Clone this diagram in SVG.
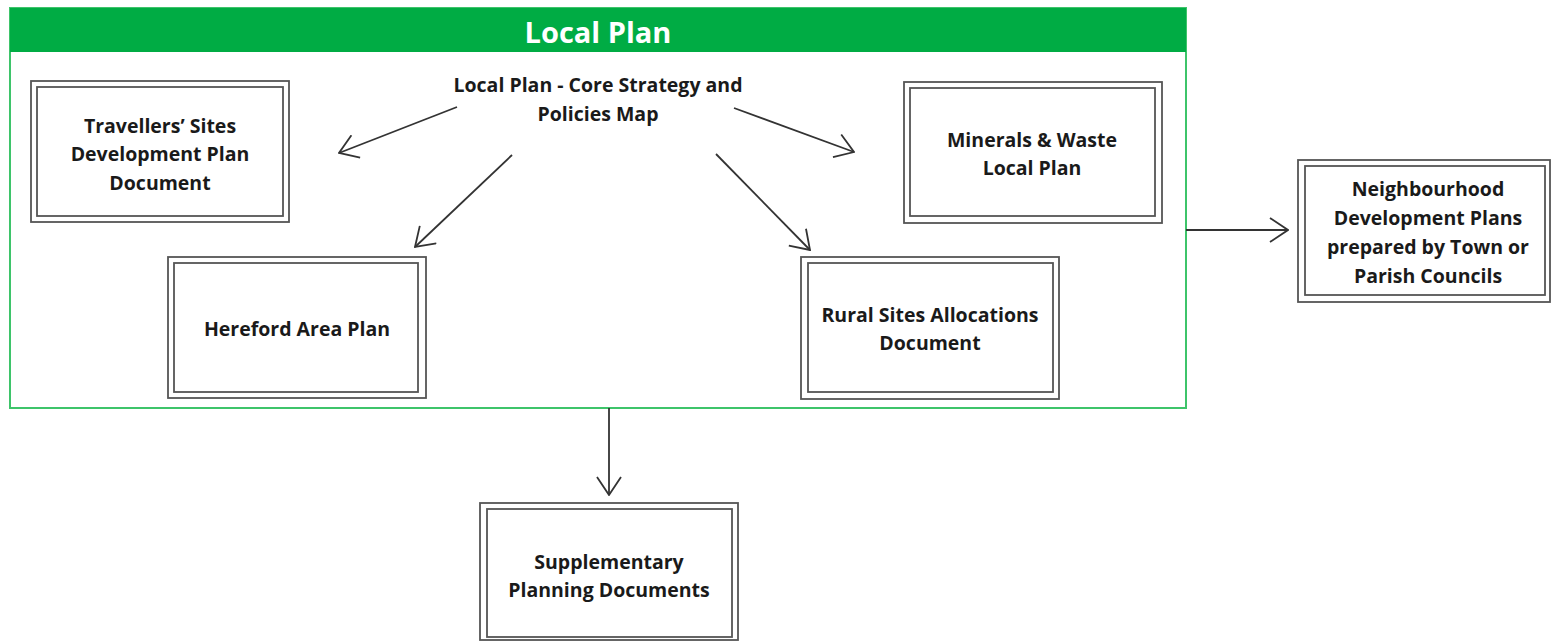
<svg xmlns="http://www.w3.org/2000/svg" width="1551" height="641" viewBox="0 0 1551 641">
<style>
.t{font-family:"Open Sans","Noto Sans","Liberation Sans",sans-serif;font-weight:bold;font-size:19.5px;fill:#1a1a1a;text-anchor:middle}
.title{font-family:"Open Sans","Noto Sans","Liberation Sans",sans-serif;font-weight:bold;font-size:29px;fill:#ffffff;text-anchor:middle}
.bx{fill:#ffffff;stroke:#555555;stroke-width:1.8}
.bi{fill:none;stroke:#555555;stroke-width:1.8}
.c{fill:none;stroke:#333333;stroke-width:1.8}
</style>
<defs>
<marker id="ah" viewBox="0 0 20 26" refX="19" refY="13" markerWidth="20" markerHeight="26" markerUnits="userSpaceOnUse" orient="auto">
<path d="M1,1 L19,13 L1,25" fill="none" stroke="#333333" stroke-width="1.8"/>
</marker>
</defs>
<rect width="1551" height="641" fill="#ffffff"/>
<g id="local-plan">
<rect x="10" y="8" width="1176" height="400" fill="#ffffff" stroke="#3ec46a" stroke-width="2"/>
<rect x="10" y="8" width="1176" height="44" fill="#00ac44"/>
<text class="title" x="598" y="43">Local Plan</text>
</g>
<g id="core-strategy">
<text class="t" x="598" y="92">Local Plan - Core Strategy and</text>
<text class="t" x="598" y="121">Policies Map</text>
</g>
<g id="travellers">
<rect class="bx" x="31" y="81" width="258" height="141"/>
<rect class="bi" x="37" y="87" width="246" height="129"/>
<text class="t" x="160" y="133">Travellers’ Sites</text>
<text class="t" x="160" y="161">Development Plan</text>
<text class="t" x="160" y="190">Document</text>
</g>
<g id="minerals">
<rect class="bx" x="904" y="82" width="258" height="141"/>
<rect class="bi" x="910" y="88" width="245" height="128"/>
<text class="t" x="1032" y="147">Minerals &amp; Waste</text>
<text class="t" x="1032" y="175">Local Plan</text>
</g>
<g id="hereford">
<rect class="bx" x="168" y="257" width="258" height="141"/>
<rect class="bi" x="174" y="263" width="244" height="129"/>
<text class="t" x="297" y="336">Hereford Area Plan</text>
</g>
<g id="rural">
<rect class="bx" x="801" y="257" width="258" height="142"/>
<rect class="bi" x="808" y="263" width="245" height="129"/>
<text class="t" x="930" y="322">Rural Sites Allocations</text>
<text class="t" x="930" y="350">Document</text>
</g>
<g id="neighbourhood">
<rect class="bx" x="1298" y="160" width="252" height="142"/>
<rect class="bi" x="1305" y="166" width="240" height="129"/>
<text class="t" x="1428" y="196">Neighbourhood</text>
<text class="t" x="1428" y="225">Development Plans</text>
<text class="t" x="1428" y="254">prepared by Town or</text>
<text class="t" x="1428" y="283">Parish Councils</text>
</g>
<g id="supplementary">
<rect class="bx" x="480" y="503" width="258" height="137"/>
<rect class="bi" x="487" y="509" width="245" height="128"/>
<text class="t" x="609" y="569">Supplementary</text>
<text class="t" x="609" y="597">Planning Documents</text>
</g>
<g id="connectors">
<line class="c" x1="457" y1="107" x2="339" y2="153" marker-end="url(#ah)"/>
<line class="c" x1="734" y1="108" x2="854" y2="152" marker-end="url(#ah)"/>
<line class="c" x1="512" y1="155" x2="415" y2="247" marker-end="url(#ah)"/>
<line class="c" x1="716" y1="154" x2="810" y2="250" marker-end="url(#ah)"/>
<line class="c" x1="1186" y1="230" x2="1288" y2="230" marker-end="url(#ah)"/>
<line class="c" x1="609" y1="408" x2="609" y2="495" marker-end="url(#ah)"/>
</g>
</svg>
